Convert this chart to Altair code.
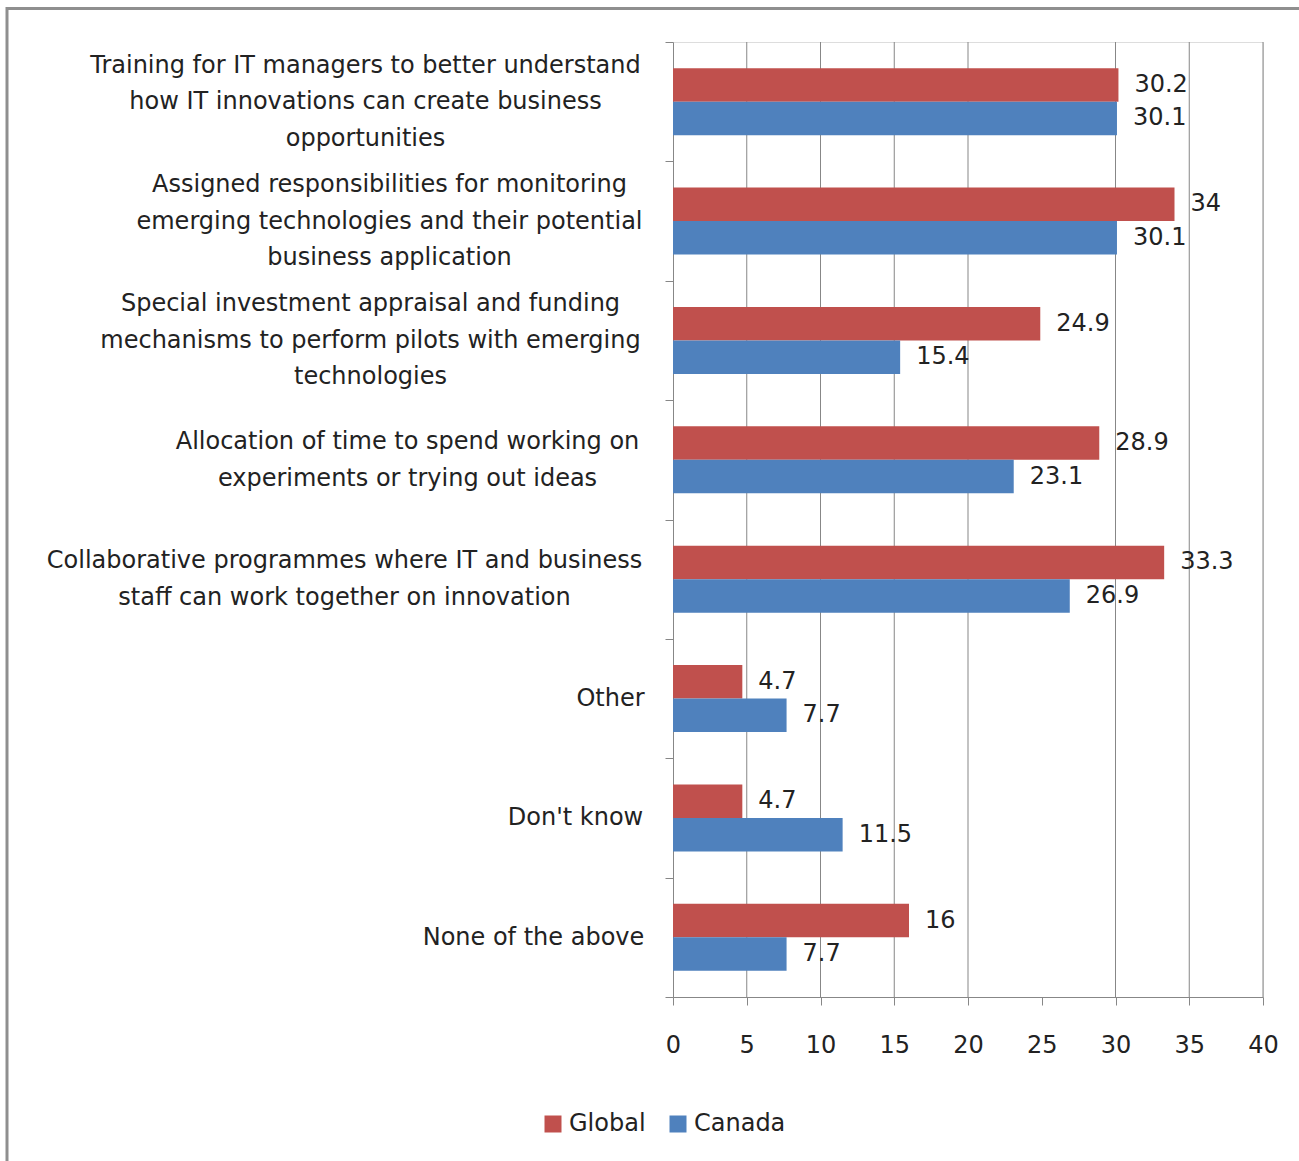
import json
import altair as alt
import pandas as pd

categories = [
    "Training for IT managers to better understand|how IT innovations can create business|opportunities",
    "Assigned responsibilities for monitoring|emerging technologies and their potential|business application",
    "Special investment appraisal and funding|mechanisms to perform pilots with emerging|technologies",
    "Allocation of time to spend working on|experiments or trying out ideas",
    "Collaborative programmes where IT and business|staff can work together on innovation",
    "Other",
    "Don't know",
    "None of the above",
]
global_values = [30.2, 34, 24.9, 28.9, 33.3, 4.7, 4.7, 16]
canada_values = [30.1, 30.1, 15.4, 23.1, 26.9, 7.7, 11.5, 7.7]
series = ["Global", "Canada"]
colors = ["#C0504D", "#4F81BD"]
x_ticks = [0, 5, 10, 15, 20, 25, 30, 35, 40]
grid_values = [5, 10, 15, 20, 30, 35, 40]

rows = []
for c, g, k in zip(categories, global_values, canada_values):
    rows.append({"category": c, "series": "Global", "value": g})
    rows.append({"category": c, "series": "Canada", "value": k})
df = pd.DataFrame(rows)

FONT = "DejaVu Sans"
FS = 24
TXT = "#222222"
GRAY = "#878787"
LH = 36.5

# label block half widths -> padding so that blocks are right-aligned, lines centred
half_pads = [300, 276, 295, 258, 321, 55, 90, 132]
pad_cond = [
    {"test": f"datum.value == {json.dumps(c)}", "value": p}
    for c, p in zip(categories, half_pads)
]
# vertical centring of multi-line label blocks
off_cond = [
    {"test": f"datum.value == {json.dumps(c)}", "value": -(c.count("|")) * LH / 2}
    for c in categories
    if "|" in c
]

y_enc = alt.Y(
    "category:N",
    sort=categories,
    scale=alt.Scale(paddingInner=0, paddingOuter=0),
    axis=alt.Axis(
        title=None,
        labelExpr="split(datum.label, '|')",
        labelAlign="center",
        labelBaseline="middle",
        labelLineHeight=LH,
        labelPadding={"condition": pad_cond, "value": 2},
        labelOffset={"condition": off_cond, "value": 0},
        labelLimit=1000,
        labelFont=FONT,
        labelFontSize=FS,
        labelColor=TXT,
        tickBand="extent",
        tickSize=8,
        tickColor=GRAY,
        domainColor=GRAY,
        grid=False,
    ),
)
yoff = alt.YOffset("series:N", sort=series, scale=alt.Scale(paddingInner=0, paddingOuter=0.78))
x_scale = alt.Scale(domain=[0, 40], nice=False)

frame = alt.Chart(pd.DataFrame({"a": [0]})).mark_rect(
    fill=None, stroke="#8f8f8f", strokeWidth=3
).encode(
    x=alt.value(-666), x2=alt.value(700), y=alt.value(-33.5), y2=alt.value(1300)
)

grid = alt.Chart(pd.DataFrame({"g": grid_values})).mark_rule(
    color=GRAY, strokeWidth=1
).encode(x=alt.X("g:Q", scale=x_scale))

bars = alt.Chart(df).mark_bar().encode(
    y=y_enc,
    yOffset=yoff,
    x=alt.X(
        "value:Q",
        scale=x_scale,
        axis=alt.Axis(
            title=None,
            values=x_ticks,
            grid=False,
            tickSize=8,
            tickColor=GRAY,
            domainColor=GRAY,
            labelFont=FONT,
            labelFontSize=FS,
            labelColor=TXT,
            labelPadding=28,
            labelFlush=False,
        ),
    ),
    color=alt.Color(
        "series:N",
        sort=series,
        scale=alt.Scale(domain=series, range=colors),
        legend=alt.Legend(
            title=None,
            orient="none",
            legendX=-132,
            legendY=1070,
            direction="horizontal",
            symbolType="square",
            symbolSize=289,
            symbolStrokeWidth=0,
            labelFont=FONT,
            labelFontSize=FS,
            labelColor=TXT,
            labelOffset=4,
            columnPadding=20,
            padding=0,
        ),
    ),
)

labels = alt.Chart(df).mark_text(
    align="left", baseline="middle", dx=16, font=FONT, fontSize=FS, color=TXT
).encode(
    y=alt.Y("category:N", sort=categories),
    yOffset=yoff,
    x=alt.X("value:Q", scale=x_scale),
    text=alt.Text("value:Q"),
)

chart = alt.layer(frame, grid, bars, labels).properties(
    width=590,
    height=955,
    padding={"left": 673, "top": 42, "right": 36, "bottom": 164},
    autosize=alt.AutoSizeParams(type="none"),
).configure_view(stroke=None).configure(background="white")

chart.save("out.html", embed_options={"renderer": "svg", "actions": False})
